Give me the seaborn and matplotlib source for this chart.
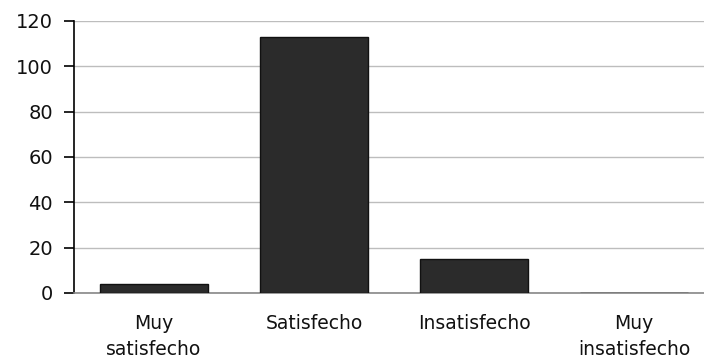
import matplotlib
matplotlib.use("Agg")
import matplotlib.pyplot as plt
import seaborn as sns
import numpy as np
import pandas as pd

# Data
categories = ["Muy\nsatisfecho", "Satisfecho", "Insatisfecho", "Muy\ninsatisfecho"]
counts = [4, 113, 15, 0]
y_ticks = [0, 20, 40, 60, 80, 100, 120]

sns.set_style("white")
plt.rcParams['font.family'] = ['DejaVu Sans']

df = pd.DataFrame({"categoria": categories, "n": counts})

fig = plt.figure(figsize=(7.04, 3.63), dpi=100)
ax = fig.add_axes([74 / 704, 70 / 363, 640 / 704, 272 / 363])

sns.barplot(data=df, x="categoria", y="n", color="#2b2b2b", width=0.67,
            edgecolor="#111111", linewidth=1, saturation=1, ax=ax, zorder=3)

ax.set_ylim(0, 120)
ax.set_xlim(-0.5, len(categories) - 0.5)
ax.set_yticks(y_ticks)
ax.yaxis.grid(True, color="#bdbdbd", linewidth=1, zorder=0)
ax.set_axisbelow(True)
ax.set_xlabel("")
ax.set_ylabel("")

for side in ["top", "right"]:
    ax.spines[side].set_visible(False)
ax.spines["left"].set_color("#000000")
ax.spines["left"].set_linewidth(1.2)
ax.spines["bottom"].set_color("#888888")
ax.spines["bottom"].set_linewidth(1.2)

# tick marks between categories on the x axis
ax.set_xticks(np.arange(-0.5, len(categories), 1.0), minor=True)
ax.tick_params(axis="x", which="major", length=0, pad=15, labelsize=13.5, colors="#111111")
ax.tick_params(axis="x", which="minor", length=5, width=1.2, color="#222222", direction="out")
ax.tick_params(axis="y", length=7, width=1.2, color="#000000", direction="out",
               labelsize=14, labelcolor="#111111", pad=8, left=True)
for lbl in ax.get_xticklabels():
    lbl.set_linespacing(1.45)

fig.savefig("out.png", dpi=100)
